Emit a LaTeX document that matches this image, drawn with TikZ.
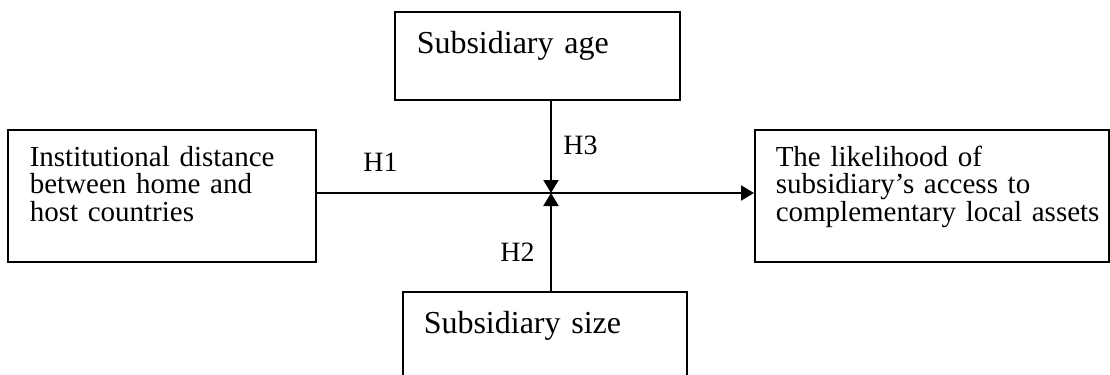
\documentclass[tikz,border=0pt]{standalone}
\usepackage{fontspec}
\setmainfont{Liberation Serif}
\usetikzlibrary{arrows.meta,calc,positioning}
\definecolor{Ink}{HTML}{000000}

\begin{document}
\begin{tikzpicture}[
    x=0.5pt, y=-0.5pt,
    link/.style={-{Triangle[length=6.5pt,width=7.5pt]}, line width=1pt, draw=Ink},
    factor/.style={
        draw=Ink,
        line width=0.75pt,
        anchor=north west,
        align=left,
        inner ysep=0pt,
        inner xsep=11pt,
        font=\fontsize{14.5pt}{13.6pt}\selectfont,
        text height=18.5pt,
        text depth=47.5pt
    },
    moderator/.style={factor, font=\fontsize{16pt}{19pt}\selectfont,
        text height=21pt, text depth=23pt},
    hyp/.style={font=\fontsize{14pt}{16pt}\selectfont, anchor=base west, inner sep=0pt}
]
\useasboundingbox (0,0) rectangle (1110,375);
\clip (0,0) rectangle (1110,375);

% Independent and dependent variables
\node[factor, text width=132pt] (distance) at (7,129)
    {Institutional distance\\between home and\\host countries};
\node[factor, inner xsep=10.5pt, text width=156pt] (access) at (754,129)
    {The likelihood of\\subsidiary’s access to\\\mbox{complementary local assets}};

% Moderators
\node[moderator, text width=120.5pt] (age) at (394,11) {Subsidiary age};
\node[moderator, inner xsep=10.5pt, text width=121pt] (size) at (402,291) {Subsidiary size};

% Hypothesised effects meet at one point on the main path.
\coordinate (hub) at (551,193);
\draw[link] (distance.east |- hub) -- (access.west |- hub);
\draw[link] (age.south -| hub) -- (hub);
\draw[link] (size.north -| hub) -- (hub);

\node[hyp] (h1) at (363,171) {H1};
\node[hyp] (h3) at (563,154) {H3};
\node[hyp] (h2) at (500,261) {H2};

\end{tikzpicture}
\end{document}
